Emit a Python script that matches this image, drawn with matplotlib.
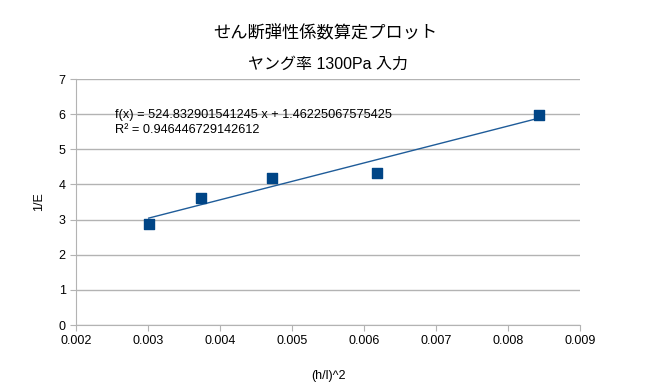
import matplotlib
matplotlib.use("Agg")
import matplotlib.pyplot as plt
import numpy as np

plt.rcParams['font.family'] = ['Liberation Sans', 'Noto Sans CJK JP', 'DejaVu Sans']

# data
x_vals = [0.00301, 0.003736, 0.004722, 0.00618, 0.00843]
y_vals = [2.87, 3.62, 4.18, 4.33, 5.98]
slope = 524.832901541245
intercept = 1.46225067575425
r2 = 0.946446729142612
x_ticks = [0.002, 0.003, 0.004, 0.005, 0.006, 0.007, 0.008, 0.009]
y_ticks = [0, 1, 2, 3, 4, 5, 6, 7]

fig = plt.figure(figsize=(6.5, 3.92), dpi=100)
ax = fig.add_axes([76 / 650, 67 / 392, 504 / 650, 246 / 392])

blue = '#004586'

# trend line over the data range
xs = np.array([min(x_vals), max(x_vals)])
ax.plot(xs, slope * xs + intercept, color='#1f5c99', lw=1.0, zorder=3)
ax.scatter(x_vals, y_vals, marker='s', s=62, color=blue, zorder=4)

ax.set_xlim(0.002, 0.009)
ax.set_ylim(0, 7)
ax.set_xticks(x_ticks)
ax.set_xticklabels([f"{t:.3f}" for t in x_ticks])
ax.set_yticks(y_ticks)
ax.yaxis.grid(True, color='#b3b3b3', lw=1)
ax.set_axisbelow(True)

for s in ['top', 'right']:
    ax.spines[s].set_visible(False)
for s in ['left', 'bottom']:
    ax.spines[s].set_color('#b3b3b3')
ax.tick_params(colors='#b3b3b3', labelcolor='black', labelsize=9, length=4)

ax.set_xlabel('(h/l)^2', fontsize=9, labelpad=16)
ax.set_ylabel('1/E', fontsize=9, labelpad=10)

ax.text(0.077, 0.855, f"f(x) = {slope} x + {intercept}", transform=ax.transAxes,
        fontsize=9.2, va='center')
ax.text(0.077, 0.793, f"R² = {r2}", transform=ax.transAxes,
        fontsize=9.2, va='center')

fig.text(0.5, 1 - 33 / 392, 'せん断弾性係数算定プロット', ha='center', va='center', fontsize=12.4)
fig.text(0.505, 1 - 64 / 392, 'ヤング率 1300Pa 入力', ha='center', va='center', fontsize=11.5)

fig.savefig('out.png', dpi=100)
